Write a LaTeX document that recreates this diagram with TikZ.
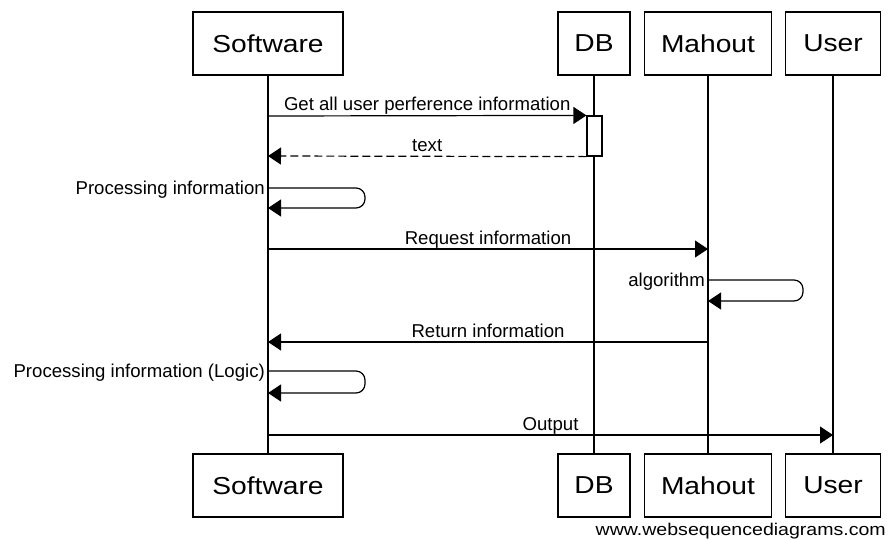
\documentclass[tikz,border=0pt]{standalone}
\usepackage{fontspec}
\setmainfont{Liberation Sans}
\newfontfamily\boxfont[FakeStretch=1.15]{Liberation Sans}
\newfontfamily\wsdfont[FakeStretch=1.15]{Liberation Sans}
\usetikzlibrary{arrows.meta}
\begin{document}
\begin{tikzpicture}[x=1pt,y=-1pt,
  actor/.style={draw, line width=1.2pt, fill=white, minimum height=63pt, inner sep=0pt,
    font=\boxfont\fontsize{24.5}{29}\selectfont},
  life/.style={line width=1.2pt},
  msg/.style={line width=1.2pt, -{Triangle[length=13pt,width=17pt]}},
  lbl/.style={font=\fontsize{18.6}{22}\selectfont, inner sep=0pt},
  selfmsg/.style={msg, rounded corners=9pt}]
\useasboundingbox (0,0) rectangle (891,539);
% actors top
\node[actor, minimum width=150pt] (swT) at (268,43.5) {Software};
\node[actor, minimum width=72pt] (dbT) at (594,43.5) {DB};
\node[actor, minimum width=127pt] (mhT) at (708,43.5) {Mahout};
\node[actor, minimum width=95pt] (usT) at (833,43.5) {User};
% actors bottom
\node[actor, minimum width=150pt] (swB) at (268,485.5) {Software};
\node[actor, minimum width=72pt] (dbB) at (594,485.5) {DB};
\node[actor, minimum width=127pt] (mhB) at (708,485.5) {Mahout};
\node[actor, minimum width=95pt] (usB) at (833,485.5) {User};
% lifelines
\draw[life] (swT.south) -- (swB.north);
\draw[life] (dbT.south) -- (dbB.north);
\draw[life] (mhT.south) -- (mhB.north);
\draw[life] (usT.south) -- (usB.north);
% activation on DB
\node[draw, fill=white, line width=1.2pt, minimum width=15pt, minimum height=40pt, inner sep=0pt] (act) at (594.5,136) {};
% coordinates on lifelines
\coordinate (m1a) at (268,116);
\coordinate (m2b) at (268,156);
\coordinate (s1a) at (268,188);
\coordinate (s1b) at (268,208);
\coordinate (s1r) at (365,188);
\coordinate (m3a) at (268,249);
\coordinate (m3b) at (708,249);
\coordinate (s2a) at (708,280);
\coordinate (s2b) at (708,301);
\coordinate (s2r) at (803,280);
\coordinate (m4a) at (708,342);
\coordinate (m4b) at (268,342);
\coordinate (s3a) at (268,371);
\coordinate (s3b) at (268,393);
\coordinate (s3r) at (365,371);
\coordinate (m5a) at (268,435);
\coordinate (m5b) at (833,435);
% messages
\draw[msg] (m1a) -- node[lbl, anchor=base, yshift=5pt] {Get all user perference information} (act.north west);
\draw[msg, dash pattern=on 8pt off 4pt] (act.south west) -- node[lbl, anchor=base, yshift=5pt] {text} (m2b);
\draw[selfmsg] (s1a) -- (s1r) -- (s1r |- s1b) -- (s1b);
\node[lbl, anchor=base east] (l1) at (265,194.5) {Processing information};
\draw[msg] (m3a) -- node[lbl, anchor=base, yshift=5pt] {Request information} (m3b);
\draw[selfmsg] (s2a) -- (s2r) -- (s2r |- s2b) -- (s2b);
\node[lbl, anchor=base east] (l2) at (705,286.5) {algorithm};
\draw[msg] (m4a) -- node[lbl, anchor=base, yshift=5pt] {Return information} (m4b);
\draw[selfmsg] (s3a) -- (s3r) -- (s3r |- s3b) -- (s3b);
\node[lbl, anchor=base east] (l3) at (265,377.5) {Processing information (Logic)};
\draw[msg] (m5a) -- node[lbl, anchor=base, yshift=5pt] {Output} (m5b);
% watermark
\node[font=\wsdfont\fontsize{17}{20}\selectfont, inner sep=0pt, anchor=base east] (wsd) at (886,535) {www.websequencediagrams.com};
\end{tikzpicture}
\end{document}
